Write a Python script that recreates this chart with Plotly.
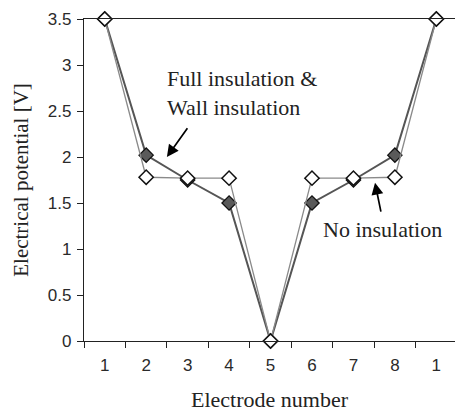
import plotly.graph_objects as go

electrode_labels = ["1", "2", "3", "4", "5", "6", "7", "8", "1"]
full_wall_insulation = [3.5, 2.02, 1.75, 1.50, 0.0, 1.50, 1.75, 2.02, 3.5]
no_insulation = [3.5, 1.78, 1.77, 1.77, 0.0, 1.77, 1.77, 1.78, 3.5]
y_ticks = [0, 0.5, 1, 1.5, 2, 2.5, 3, 3.5]

xpos = list(range(len(electrode_labels)))
boundaries = [i - 0.5 for i in xpos]
xrange_ = [-0.5, 8.45]

fig = go.Figure()
fig.add_trace(go.Scatter(
    x=xpos, y=full_wall_insulation, mode="lines+markers",
    name="Full insulation & Wall insulation",
    line=dict(color="#555555", width=2),
    marker=dict(symbol="diamond", size=11, color="#5a5a5a",
                line=dict(color="#111111", width=1.3)),
    cliponaxis=False,
))
fig.add_trace(go.Scatter(
    x=xpos, y=no_insulation, mode="lines+markers",
    name="No insulation", xaxis="x2",
    line=dict(color="#8a8a8a", width=1.3),
    marker=dict(symbol="diamond", size=11, color="white",
                line=dict(color="#111111", width=1.5)),
    cliponaxis=False,
))

serif = "Liberation Serif, Times New Roman, serif"
sans = "Liberation Sans, Arial, sans-serif"

fig.update_layout(
    width=455, height=413,
    margin=dict(l=84, r=0, t=19, b=72),
    paper_bgcolor="white", plot_bgcolor="white",
    showlegend=False,
    xaxis=dict(
        range=xrange_, tickvals=boundaries, showticklabels=False,
        ticks="outside", ticklen=6, tickcolor="#222222", tickwidth=1.2,
        showgrid=False, zeroline=False,
        showline=True, linecolor="#222222", linewidth=1.2, mirror=True,
    ),
    xaxis2=dict(
        range=xrange_, overlaying="x", anchor="y", side="bottom",
        tickvals=xpos, ticktext=electrode_labels, ticks="",
        showgrid=False, zeroline=False, showline=False,
        tickfont=dict(family=sans, size=17, color="#2a2a2a"),
        ticklabelstandoff=12,
        title=dict(text="Electrode number", standoff=17,
                   font=dict(family=serif, size=22, color="#222222")),
    ),
    yaxis=dict(
        range=[0, 3.5], tickvals=y_ticks,
        ticks="outside", ticklen=6, tickcolor="#222222", tickwidth=1,
        showgrid=False, zeroline=False,
        showline=True, linecolor="#222222", linewidth=1.2,
        tickfont=dict(family=sans, size=17, color="#2a2a2a"),
        ticklabelstandoff=2,
        title=dict(text="Electrical potential [V]", standoff=13,
                   font=dict(family=serif, size=21, color="#222222")),
    ),
)

fig.add_annotation(x=1.46, y=2.70, xref="x", yref="y",
                   text="Full insulation &<br>Wall insulation",
                   showarrow=False, xanchor="left", align="left",
                   font=dict(family=serif, size=22, color="#222222"))
fig.add_annotation(x=1.5, y=2.0, ax=2.02, ay=2.33, xref="x", yref="y",
                   axref="x", ayref="y", text="", showarrow=True,
                   arrowhead=2, arrowsize=1.4, arrowwidth=1.7, arrowcolor="black")
fig.add_annotation(x=5.22, y=1.21, xref="x", yref="y",
                   text="No insulation", showarrow=False, xanchor="left",
                   font=dict(family=serif, size=22, color="#222222"))
fig.add_annotation(x=6.52, y=1.72, ax=6.67, ay=1.39, xref="x", yref="y",
                   axref="x", ayref="y", text="", showarrow=True,
                   arrowhead=2, arrowsize=1.4, arrowwidth=1.7, arrowcolor="black")

fig.write_html("out.html")
